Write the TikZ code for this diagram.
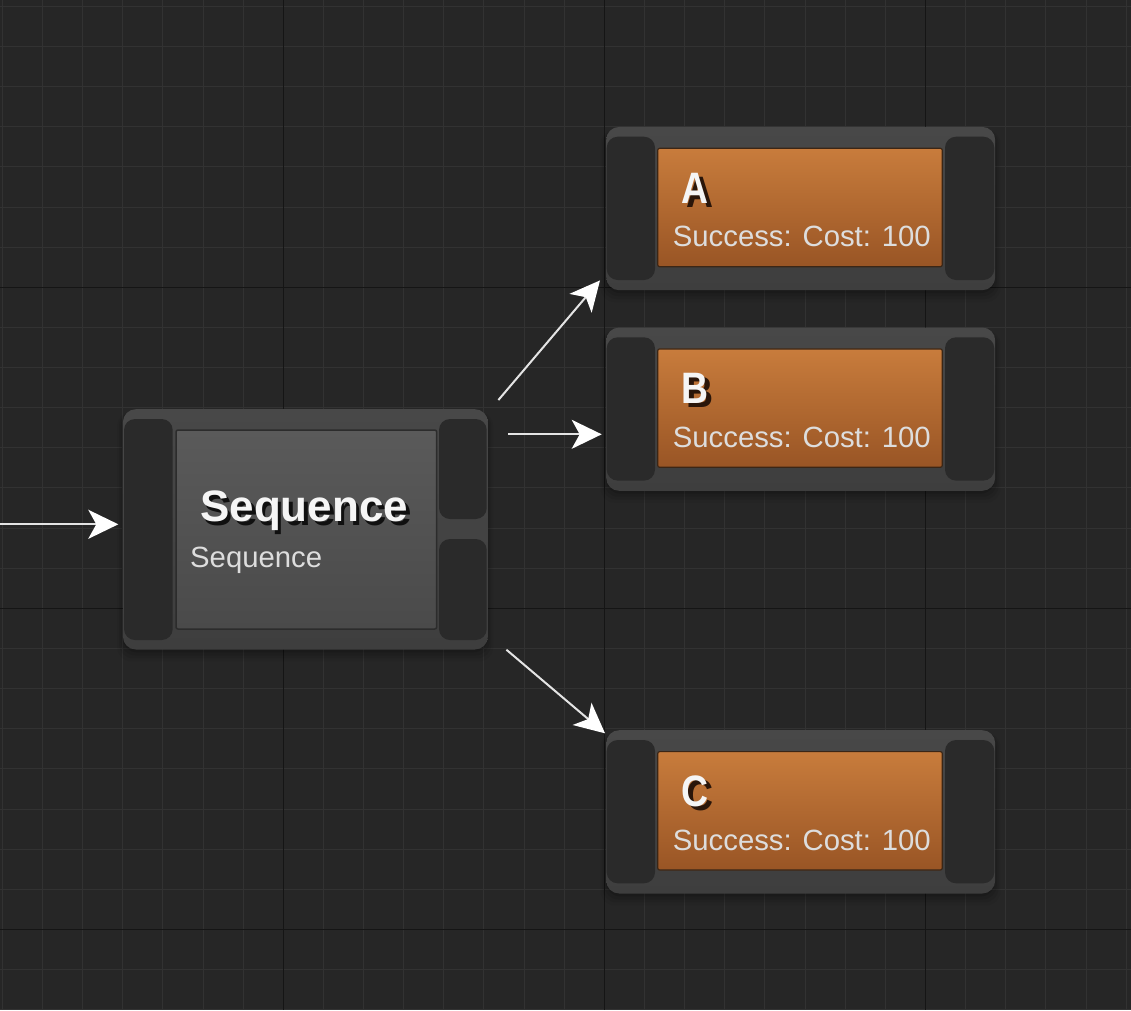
\documentclass[tikz,border=0pt]{standalone}
\usepackage{fontspec}
\usepackage{graphicx}
\setmainfont{Liberation Sans}
\usetikzlibrary{arrows.meta,calc}
\definecolor{bgc}{HTML}{262626}
\definecolor{minorc}{HTML}{323232}
\definecolor{majorc}{HTML}{151515}
\definecolor{outtop}{HTML}{484848}
\definecolor{outbot}{HTML}{3E3E3E}
\definecolor{pinc}{HTML}{2A2A2A}
\definecolor{seqtop}{HTML}{5A5A5A}
\definecolor{seqbot}{HTML}{4A4A4A}
\definecolor{seqedge}{HTML}{2C2C2C}
\definecolor{ortop}{HTML}{C87C3C}
\definecolor{orbot}{HTML}{995525}
\definecolor{oredge}{HTML}{3B2616}
\definecolor{titlec}{HTML}{F5F5F5}
\definecolor{subc}{HTML}{DDDDDD}
\definecolor{linec}{HTML}{E4E4E4}
\definecolor{tshadow}{HTML}{101010}
\definecolor{oshadow}{HTML}{2A160A}

\tikzset{
  minorgrid/.style={draw=minorc, line width=1pt},
  majorgrid/.style={draw=majorc, line width=1.2pt},
  outerbox/.style={rectangle, rounded corners=13pt, inner sep=0pt, top color=outtop, bottom color=outbot, draw=none},
  pinbox/.style={fill=pinc, rounded corners=11pt},
  seqbody/.style={top color=seqtop, bottom color=seqbot, draw=seqedge, line width=1.5pt, rounded corners=2pt},
  taskbody/.style={top color=ortop, bottom color=orbot, draw=oredge, line width=1.2pt, rounded corners=2pt},
  titletxt/.style={inner sep=0pt, anchor=base west, text=titlec, font=\bfseries\fontsize{44}{44}\selectfont},
  seqshadowtxt/.style={titletxt, text=tshadow},
  lettershadow/.style={titletxt, text=oshadow},
  subtxt/.style={inner sep=0pt, anchor=base west, text=subc, font=\fontsize{29.3}{29.3}\selectfont},
  conn/.style={draw=linec, line width=2pt, -{Stealth[length=30pt, width=29pt, inset=8pt, color=white]}},
}

\newcommand\softshadow[4]{%
  \foreach \e/\o in {9/0.05,6/0.07,3/0.09,0/0.12}{%
    \fill[black, opacity=\o, rounded corners=14pt] ({#1-\e*0.6},{#2+3}) rectangle ({#3+\e*0.6},{#4+\e+3});}%
}

\newcommand\tasknode[3]{%
  \softshadow{606}{#2}{995}{#2+163.3}
  \node[outerbox, minimum width=389pt, minimum height=163.3pt, anchor=north west] (#1) at (606,#2) {};
  \fill[pinbox] ($(#1.north west)+(0.7,10)$) rectangle ($(#1.north west)+(49,153.3)$);
  \fill[pinbox] ($(#1.north west)+(339,10)$) rectangle ($(#1.north west)+(388.3,153.3)$);
  \path[taskbody] ($(#1.north west)+(51.7,21.6)$) rectangle ($(#1.north west)+(336.3,140)$);
  \node[lettershadow] (#1ts) at ($(#1.north west)+(80.7,80.3)$) {\scalebox{0.85}[1]{#3}};
  \node[titletxt] (#1t) at ($(#1.north west)+(75.7,76.3)$) {\scalebox{0.85}[1]{#3}};
  \node[subtxt] (#1s) at ($(#1.north west)+(66.7,120)$) {Success: Cost: 100};
}

\begin{document}
\begin{tikzpicture}[x=1pt,y=-1pt]
\useasboundingbox (0,0) rectangle (1131,1010);
\fill[bgc] (0,0) rectangle (1131,1010);
% grid
\foreach \i in {0,...,28} \draw[minorgrid] ({2.3+40.14*\i},0) -- ({2.3+40.14*\i},1010);
\foreach \i in {0,...,25} \draw[minorgrid] (0,{6.3+40.14*\i}) -- (1131,{6.3+40.14*\i});
\foreach \v in {283.3,604.4,925.5} \draw[majorgrid] (\v,0) -- (\v,1010);
\foreach \v in {287.3,608.4,929.5} \draw[majorgrid] (0,\v) -- (1131,\v);

% sequence node
\softshadow{122.7}{409}{487.7}{649.3}
\node[outerbox, minimum width=365pt, minimum height=240.3pt, anchor=north west] (seq) at (122.7,409) {};
\fill[pinbox] ($(seq.north west)+(1.3,10)$) rectangle ($(seq.north west)+(50,231)$);
\fill[pinbox] ($(seq.north west)+(316.3,10)$) rectangle ($(seq.north west)+(364,110)$);
\fill[pinbox] ($(seq.north west)+(316.3,130)$) rectangle ($(seq.north west)+(364,231)$);
\path[seqbody] ($(seq.north west)+(53.3,21)$) rectangle ($(seq.north west)+(314,220)$);
\node[seqshadowtxt] (seqts) at ($(seq.north west)+(80.8,116.5)$) {Sequence};
\node[titletxt] (seqt) at ($(seq.north west)+(77.3,112.7)$) {Sequence};
\node[subtxt] (seqs) at ($(seq.north west)+(67.3,158.3)$) {Sequence};

% task nodes
\tasknode{A}{126.7}{A}
\tasknode{B}{327.3}{B}
\tasknode{C}{730}{C}

% connectors
\coordinate (inL) at (0,524.3);
\coordinate (seqIn) at ($(seq.north west)+(-4.4,115.3)$);
\coordinate (seqOutA) at ($(seq.north east)+(10.3,-9)$);
\coordinate (AIn) at ($(A.south west)+(-6,-10)$);
\coordinate (seqOutB) at ($(seq.north east)+(20.3,25.3)$);
\coordinate (BIn) at ($(B.north west)+(-4.3,107)$);
\coordinate (seqOutC) at ($(seq.south east)+(18.3,0)$);
\coordinate (CIn) at ($(C.north west)+(-1,3.3)$);
\draw[conn] (inL) -- (seqIn);
\draw[conn] (seqOutA) -- (AIn);
\draw[conn] (seqOutB) -- (BIn);
\draw[conn] (seqOutC) -- (CIn);
\end{tikzpicture}
\end{document}
